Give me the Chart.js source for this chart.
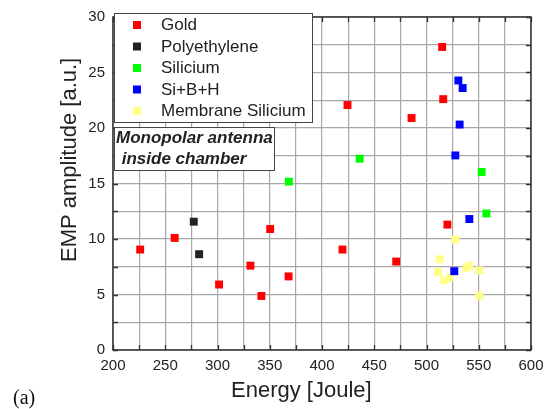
<!DOCTYPE html>
<html>
<head>
<meta charset="utf-8">
<script src="https://cdn.jsdelivr.net/npm/chart.js@4/dist/chart.umd.min.js"></script>
<style>
  html, body { margin: 0; padding: 0; background: #fff; }
</style>
</head>
<body>
<canvas id="c" width="552" height="409"></canvas>
<script>
// Measured EMP amplitude versus shot energy, grouped by target material
const goldEnergy = [226, 259, 301.5, 331.5, 342, 350.4, 368, 419.6, 424.4, 471, 485.7, 515, 516, 520];
const goldAmp    = [9.05, 10.1, 5.9, 7.6, 4.87, 10.9, 6.63, 9.05, 22.07, 7.97, 20.9, 27.3, 22.6, 11.3];

const polyEnergy = [277.3, 282.4];
const polyAmp    = [11.56, 8.63];

const siEnergy = [368.3, 436, 552.8, 557.3];
const siAmp    = [15.17, 17.23, 16.04, 12.3];

const sbhEnergy = [530.5, 534.6, 531.7, 527.6, 541, 526.6];
const sbhAmp    = [24.28, 23.6, 20.31, 17.53, 11.8, 7.1];

const memEnergy = [527.6, 512.6, 541, 538.4, 550.6, 511, 522.8, 517, 550.6];
const memAmp    = [9.95, 8.18, 7.59, 7.41, 7.17, 7.02, 6.54, 6.27, 4.9];

const seriesNames  = ['Gold', 'Polyethylene', 'Silicium', 'Si+B+H', 'Membrane Silicium'];
const seriesColors = ['#ff0000', '#222222', '#00ff00', '#0000ff', '#ffff88'];

const xTickLabels = ['200', '250', '300', '350', '400', '450', '500', '550', '600'];
const yTickLabels = ['0', '5', '10', '15', '20', '25', '30'];

const xTitle = 'Energy [Joule]';
const yTitle = 'EMP amplitude [a.u.]';
const panelTag = '(a)';
const noteLines = ['Monopolar antenna', ' inside chamber'];

const FONT = '"Liberation Sans", Arial, Helvetica, sans-serif';
const SERIF = '"Liberation Serif", "Times New Roman", serif';
const TEXT = '#222';

function pairs(xs, ys) { return xs.map((x, i) => ({ x: x, y: ys[i] })); }

const seriesData = [
  pairs(goldEnergy, goldAmp),
  pairs(polyEnergy, polyAmp),
  pairs(siEnergy, siAmp),
  pairs(sbhEnergy, sbhAmp),
  pairs(memEnergy, memAmp)
];

const datasets = seriesNames.map((name, i) => ({
  label: name,
  data: seriesData[i],
  pointStyle: 'rect',
  pointRadius: 5.6,
  pointHoverRadius: 5.6,
  backgroundColor: seriesColors[i],
  borderColor: seriesColors[i],
  borderWidth: 0,
  showLine: false
}));

// Frame, inward tick marks, legend, note box and axis titles
const framePlugin = {
  id: 'frame',
  beforeDatasetsDraw(chart) {
    const { ctx, chartArea: a, scales: { x, y } } = chart;
    ctx.save();
    ctx.strokeStyle = '#333';
    ctx.lineWidth = 1.3;
    const len = 5;
    ctx.beginPath();
    x.ticks.forEach(t => {
      const px = Math.round(x.getPixelForValue(t.value)) + 0.5;
      ctx.moveTo(px, a.bottom); ctx.lineTo(px, a.bottom - len);
      ctx.moveTo(px, a.top); ctx.lineTo(px, a.top + len);
    });
    y.ticks.forEach(t => {
      const py = Math.round(y.getPixelForValue(t.value)) + 0.5;
      ctx.moveTo(a.left, py); ctx.lineTo(a.left + len, py);
      ctx.moveTo(a.right, py); ctx.lineTo(a.right - len, py);
    });
    ctx.stroke();
    ctx.lineWidth = 1.5;
    ctx.strokeRect(a.left, a.top, a.right - a.left, a.bottom - a.top);
    ctx.restore();
  },
  afterDraw(chart) {
    const { ctx } = chart;
    ctx.save();
    // legend box
    ctx.fillStyle = '#fff';
    ctx.fillRect(114, 13, 198, 109);
    ctx.strokeStyle = '#444';
    ctx.lineWidth = 1;
    ctx.strokeRect(114.5, 13.5, 198, 109);
    ctx.textBaseline = 'middle';
    ctx.textAlign = 'left';
    ctx.font = '17px ' + FONT;
    chart.data.datasets.forEach((ds, i) => {
      const cy = 25 + i * 21.5;
      ctx.fillStyle = ds.backgroundColor;
      ctx.fillRect(133, cy - 4, 8, 8);
      ctx.fillStyle = TEXT;
      ctx.fillText(ds.label, 161, cy + 0.5);
    });
    // note box
    ctx.fillStyle = '#fff';
    ctx.fillRect(114, 127, 160, 44);
    ctx.strokeStyle = '#444';
    ctx.strokeRect(114.5, 127.5, 160, 43);
    ctx.fillStyle = TEXT;
    ctx.font = 'italic bold 17px ' + FONT;
    ctx.fillText(noteLines[0], 116, 138.5);
    ctx.fillText(noteLines[1], 117, 159.5);

    // axis titles
    ctx.textBaseline = 'alphabetic';
    ctx.font = '22px ' + FONT;
    ctx.fillText(xTitle, 231, 397);
    ctx.save();
    ctx.translate(76, 262);
    ctx.rotate(-Math.PI / 2);
    ctx.fillText(yTitle, 0, 0);
    ctx.restore();

    // panel tag
    ctx.font = '20px ' + SERIF;
    ctx.fillStyle = '#111';
    ctx.fillText(panelTag, 13, 404);
    ctx.restore();
  }
};

new Chart(document.getElementById('c'), {
  type: 'scatter',
  data: { datasets: datasets },
  options: {
    responsive: false,
    animation: false,
    events: [],
    layout: { padding: { left: 0, right: 21, top: 15, bottom: 0 } },
    plugins: { legend: { display: false }, tooltip: { enabled: false } },
    scales: {
      x: {
        type: 'linear',
        min: 200, max: 600,
        afterFit(s) { s.height = 59; },
        grid: { color: '#a8a8a8', lineWidth: 1.2, drawTicks: false },
        border: { display: false },
        ticks: {
          stepSize: 25,
          padding: 7,
          color: TEXT,
          font: { family: FONT, size: 15 },
          maxRotation: 0,
          autoSkip: false,
          callback: v => (v % 50 === 0 ? xTickLabels[(v - 200) / 50] : '')
        },
        title: { display: false }
      },
      y: {
        type: 'linear',
        min: 0, max: 30,
        afterFit(s) { s.width = 113; },
        grid: { color: '#a8a8a8', lineWidth: 1.2, drawTicks: false },
        border: { display: false },
        ticks: {
          stepSize: 2.5,
          padding: 8,
          color: TEXT,
          font: { family: FONT, size: 15 },
          autoSkip: false,
          callback: v => (v % 5 === 0 ? yTickLabels[v / 5] : '')
        },
        title: { display: false }
      }
    }
  },
  plugins: [framePlugin]
});
</script>
</body>
</html>
